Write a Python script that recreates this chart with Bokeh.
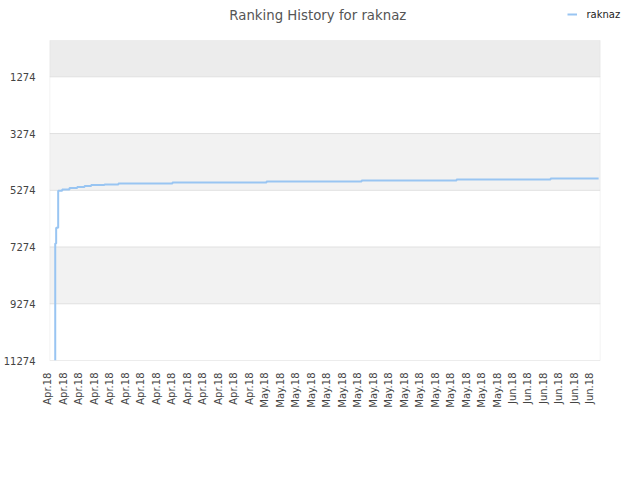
import math
from bokeh.plotting import figure
from bokeh.models import (Range1d, FixedTicker, BoxAnnotation, Label, Legend, LegendItem)
from bokeh.embed import file_html
from bokeh.resources import INLINE

# ---- data ----
title_text = "Ranking History for raknaz"
series_name = "raknaz"
x_labels = ["Apr.18"] * 14 + ["May.18"] * 16 + ["Jun.18"] * 6
rank_x = [0.48, 0.48, 0.54, 0.67, 0.93, 1.40, 1.90, 2.37, 2.80, 3.66, 4.56,
          8.05, 14.12, 20.26, 26.39, 32.46, 35.56]
rank_y = [11274, 7154, 6591, 5288, 5242, 5193, 5158, 5122, 5087, 5066, 5031,
          4996, 4960, 4925, 4890, 4855, 4855]
y_ticks = [1274, 3274, 5274, 7274, 9274, 11274]

FONT = "DejaVu Sans"

# plot-area extents (data units)
PX_PER_X = 15.49
X0, X1 = 2.0 / PX_PER_X, 552.4 / PX_PER_X
Y_TOP, Y_BOT = -6, 11274
UNITS_PER_PX_Y = (Y_BOT - Y_TOP) / 320.0

FRAME_W, FRAME_H = 584, 360
x_start = X0 - 2.3 / PX_PER_X
x_end = x_start + FRAME_W / PX_PER_X
y_top_frame = Y_TOP - 40 * UNITS_PER_PX_Y

p = figure(frame_width=FRAME_W, frame_height=FRAME_H, output_backend="svg", toolbar_location=None,
           x_range=Range1d(x_start, x_end), y_range=Range1d(Y_BOT, y_top_frame),
           min_border_left=40, min_border_right=0, min_border_top=0,
           min_border_bottom=100)
p.title.visible = False
p.background_fill_color = "white"
p.border_fill_color = "white"
p.outline_line_color = None

# bands
p.add_layout(BoxAnnotation(left=X0, right=X1, top=Y_TOP, bottom=1274, fill_color="#ececec",
                           fill_alpha=1, line_alpha=0, level="underlay"))
for lo, hi in [(3274, 5274), (7274, 9274)]:
    p.add_layout(BoxAnnotation(left=X0, right=X1, top=lo, bottom=hi, fill_color="#f2f2f2",
                               fill_alpha=1, line_alpha=0, level="underlay"))

# horizontal grid lines inside the plot area
p.segment(x0=[X0] * len(y_ticks), x1=[X1] * len(y_ticks), y0=y_ticks, y1=y_ticks,
          line_color="#e0e0e0", line_width=1)

# axes
p.xaxis.ticker = FixedTicker(ticks=list(range(len(x_labels))))
p.xaxis.major_label_overrides = {i: s for i, s in enumerate(x_labels)}
p.xaxis.major_label_orientation = math.pi / 2
p.yaxis.ticker = FixedTicker(ticks=y_ticks)
for ax in (p.xaxis, p.yaxis):
    ax.major_tick_line_color = None
    ax.minor_tick_line_color = None
    ax.axis_line_color = None
    ax.major_label_text_font = FONT
    ax.major_label_text_font_size = "10px"
    ax.major_label_text_color = "#444444"
p.xaxis.major_label_standoff = 6
p.yaxis.major_label_standoff = 6
p.xgrid.grid_line_color = None
p.ygrid.grid_line_color = None

r = p.step(rank_x, rank_y, mode="after", line_color="#99c5f2", line_width=2)

# plot-area border
p.add_layout(BoxAnnotation(left=X0, right=X1, top=Y_TOP, bottom=Y_BOT, fill_alpha=0,
                           line_color="#d9d9d9", line_width=1))

# title
title_x = x_start + (318.3 - 48.0) / PX_PER_X
title_y = y_top_frame + 15 * UNITS_PER_PX_Y
p.add_layout(Label(x=title_x, y=title_y, text=title_text, text_font=FONT, text_font_size="13.3px",
                   text_color="#555555", text_align="center", text_baseline="alphabetic"))

legend = Legend(items=[LegendItem(label=series_name, renderers=[r])], location=(519.5, 340),
                border_line_color=None, background_fill_alpha=0, padding=0, margin=0,
                glyph_width=10, glyph_height=12, label_height=12, label_standoff=10,
                label_text_font=FONT, label_text_font_size="10px", label_text_color="#222222")
p.add_layout(legend, "center")

open("out.html", "w").write(file_html(p, INLINE))
